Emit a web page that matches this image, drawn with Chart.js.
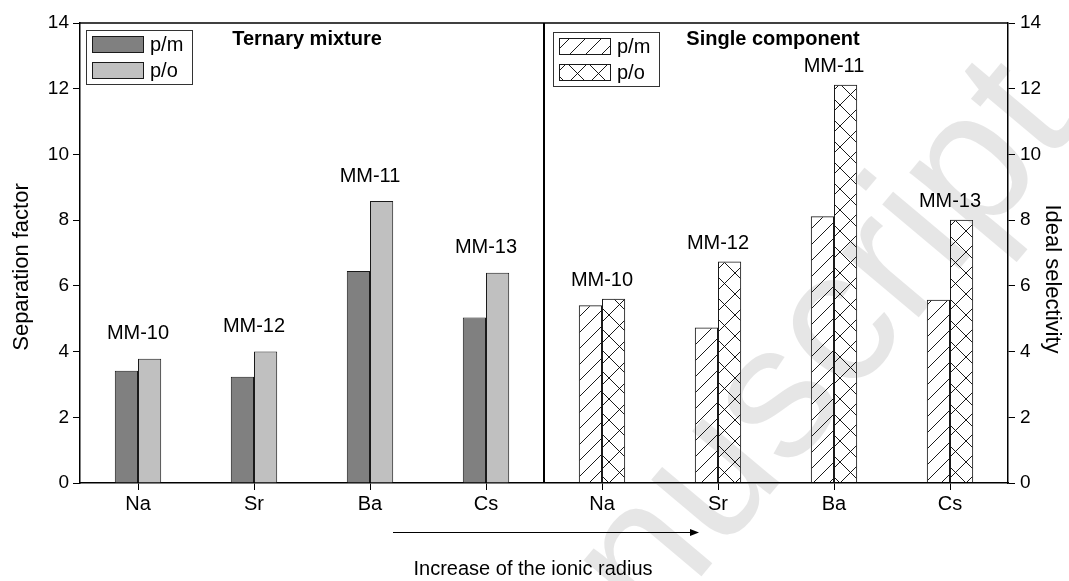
<!DOCTYPE html>
<html>
<head>
<meta charset="utf-8">
<script src="https://cdn.jsdelivr.net/npm/chart.js@4"></script>
<style>
  html, body { margin: 0; padding: 0; background: #fff; }
  canvas { display: block; }
</style>
</head>
<body>
<canvas id="sepChart" width="1069" height="581"></canvas>
<script>
// categories and values
const categories = ['Na', 'Sr', 'Ba', 'Cs', 'Na', 'Sr', 'Ba', 'Cs'];
const groupLabels = ['MM-10', 'MM-12', 'MM-11', 'MM-13', 'MM-10', 'MM-12', 'MM-11', 'MM-13'];
const ternaryPm = [3.42, 3.23, 6.45, 5.04];
const ternaryPo = [3.78, 4.00, 8.58, 6.40];
const singlePm = [5.41, 4.73, 8.12, 5.58];
const singlePo = [5.61, 6.74, 12.12, 8.01];
const yTicks = [0, 2, 4, 6, 8, 10, 12, 14];

const FONT = "'Liberation Sans', Arial, Helvetica, sans-serif";
const DARK = '#808080';
const LIGHT = '#c0c0c0';
const EDGE = '#1a1a1a';

function hatch(size, cross) {
    const c = document.createElement('canvas');
    c.width = size; c.height = size;
    const g = c.getContext('2d');
    g.strokeStyle = '#000';
    g.lineWidth = 0.9;
    g.beginPath();
    g.moveTo(-1, size + 1); g.lineTo(size + 1, -1);
    if (cross) {
        g.moveTo(-1, -1); g.lineTo(size + 1, size + 1);
    }
    g.stroke();
    return document.createElement('canvas').getContext('2d').createPattern(c, 'repeat');
}
const slash = hatch(16, false);
const crossed = hatch(21, true);

const pmFill = [DARK, DARK, DARK, DARK, slash, slash, slash, slash];
const poFill = [LIGHT, LIGHT, LIGHT, LIGHT, crossed, crossed, crossed, crossed];

const overlay = {
    id: 'overlay',
    beforeDraw(chart) {
        const c = chart.ctx;
        c.save();
        c.fillStyle = '#fff';
        c.fillRect(0, 0, chart.width, chart.height);
        c.restore();
    },
    afterDraw(chart) {
        const c = chart.ctx;
        const a = chart.chartArea;
        const x = chart.scales.x;
        const y = chart.scales.y;
        c.save();

        // frame top and panel divider
        c.strokeStyle = '#000';
        c.lineWidth = 1.5;
        c.beginPath();
        c.moveTo(a.left, a.top); c.lineTo(a.right, a.top);
        c.stroke();
        const mid = (x.getPixelForTick(3) + x.getPixelForTick(4)) / 2;
        c.lineWidth = 2;
        c.beginPath();
        c.moveTo(mid, a.top); c.lineTo(mid, a.bottom);
        c.stroke();

        // panel titles
        c.fillStyle = '#000';
        c.textAlign = 'center';
        c.textBaseline = 'middle';
        c.font = 'bold 20px ' + FONT;
        c.fillText('Ternary mixture', 307, a.top + 16);
        c.fillText('Single component', 773, a.top + 16);

        // group labels above each pair
        c.font = '20px ' + FONT;
        const pm = chart.data.datasets[0].data;
        const po = chart.data.datasets[1].data;
        groupLabels.forEach((lab, i) => {
            const top = y.getPixelForValue(Math.max(pm[i], po[i]));
            const lift = i < 4 ? 25 : 18;
            c.fillText(lab, x.getPixelForTick(i), top - lift);
        });

        // legends
        function legend(bx, by, fills) {
            c.lineWidth = 1;
            c.strokeStyle = '#333';
            c.strokeRect(bx + 0.5, by + 0.5, 106, 54);
            ['p/m', 'p/o'].forEach((t, k) => {
                const sy = by + 6 + k * 26;
                c.fillStyle = fills[k];
                c.fillRect(bx + 6, sy, 51, 16);
                c.strokeStyle = EDGE;
                c.strokeRect(bx + 6.5, sy + 0.5, 51, 16);
                c.fillStyle = '#000';
                c.textAlign = 'left';
                c.textBaseline = 'middle';
                c.font = '20px ' + FONT;
                c.fillText(t, bx + 64, sy + 9);
            });
        }
        legend(86, 30, [DARK, LIGHT]);
        legend(553, 32, [slash, crossed]);

        // axis titles
        c.font = '22px ' + FONT;
        c.textAlign = 'center';
        c.textBaseline = 'middle';
        c.save();
        c.translate(22, (a.top + a.bottom) / 2 + 14);
        c.rotate(-Math.PI / 2);
        c.fillText('Separation factor', 0, 0);
        c.restore();
        c.save();
        c.translate(1052, (a.top + a.bottom) / 2 + 26);
        c.rotate(Math.PI / 2);
        c.fillText('Ideal selectivity', 0, 0);
        c.restore();

        // arrow and caption below the axis
        c.strokeStyle = '#000';
        c.lineWidth = 1;
        c.beginPath();
        c.moveTo(393, 532.5); c.lineTo(692, 532.5);
        c.stroke();
        c.beginPath();
        c.moveTo(699, 532.5); c.lineTo(690, 529); c.lineTo(690, 536); c.closePath();
        c.fill();
        c.font = '20px ' + FONT;
        c.fillText('Increase of the ionic radius', 533, 569);

        // manuscript stamp
        c.globalCompositeOperation = 'darken';
        c.fillStyle = '#e6e6e6';
        c.font = '190px ' + FONT;
        c.textAlign = 'right';
        c.textBaseline = 'alphabetic';
        c.translate(1080, 125);
        c.rotate(-50 * Math.PI / 180);
        c.fillText('Accepted Manuscript', 0, 0);
        c.restore();
    }
};

const ctx = document.getElementById('sepChart').getContext('2d');
new Chart(ctx, {
    type: 'bar',
    data: {
        labels: categories,
        datasets: [{
            label: 'p/m',
            data: ternaryPm.concat(singlePm),
            backgroundColor: pmFill,
            borderColor: EDGE,
            borderWidth: 1,
            yAxisID: 'y'
        }, {
            label: 'p/o',
            data: ternaryPo.concat(singlePo),
            backgroundColor: poFill,
            borderColor: EDGE,
            borderWidth: 1,
            yAxisID: 'y'
        }]
    },
    options: {
        responsive: false,
        animation: false,
        events: [],
        layout: { padding: { top: 23, left: 0, right: 0, bottom: 0 } },
        datasets: { bar: { categoryPercentage: 0.4, barPercentage: 1.0 } },
        plugins: { legend: { display: false }, tooltip: { enabled: false } },
        scales: {
            x: {
                offset: true,
                grid: { offset: false, drawOnChartArea: false, tickLength: 7, color: '#000' },
                border: { color: '#000', width: 1.5 },
                ticks: { color: '#000', font: { family: FONT, size: 20 }, padding: 2, maxRotation: 0, autoSkip: false },
                afterFit(s) { s.height = 98; }
            },
            y: {
                position: 'left',
                min: 0, max: 14,
                grid: { drawOnChartArea: false, tickLength: 7, color: '#000' },
                border: { color: '#000', width: 1.5 },
                ticks: { stepSize: 2, color: '#000', font: { family: FONT, size: 19 }, padding: 4 },
                afterBuildTicks(s) { s.ticks = yTicks.map(v => ({ value: v })); },
                afterFit(s) { s.width = 80; }
            },
            y2: {
                position: 'right',
                min: 0, max: 14,
                grid: { drawOnChartArea: false, tickLength: 7, color: '#000' },
                border: { color: '#000', width: 1.5 },
                ticks: { stepSize: 2, color: '#000', font: { family: FONT, size: 19 }, padding: 5 },
                afterBuildTicks(s) { s.ticks = yTicks.map(v => ({ value: v })); },
                afterFit(s) { s.width = 61; }
            }
        }
    },
    plugins: [overlay]
});
</script>
</body>
</html>
